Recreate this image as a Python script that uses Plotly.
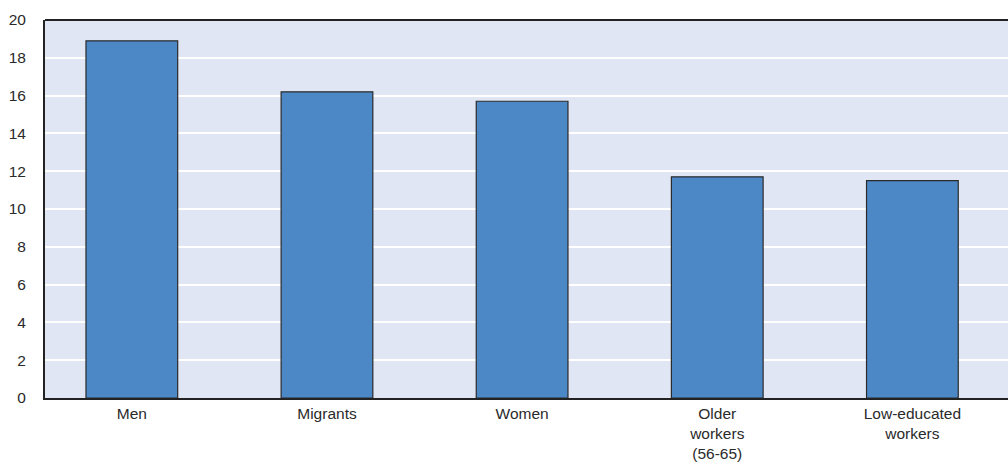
import plotly.graph_objects as go

categories = ["Men", "Migrants", "Women", "Older<br>workers<br>(56-65)", "Low-educated<br>workers"]
values = [18.9, 16.2, 15.7, 11.7, 11.5]
y_ticks = [0, 2, 4, 6, 8, 10, 12, 14, 16, 18, 20]

positions = list(range(len(categories)))

fig = go.Figure(
    go.Bar(
        x=positions,
        y=values,
        width=0.47,
        marker=dict(color="#4c88c6", line=dict(color="#2a2a2a", width=1.2)),
        hoverinfo="skip",
    )
)

font_family = "Liberation Sans, Arial, sans-serif"

fig.update_layout(
    width=1008,
    height=469,
    margin=dict(l=45, r=0, t=20, b=71),
    paper_bgcolor="white",
    plot_bgcolor="#e0e6f4",
    showlegend=False,
    font=dict(family=font_family, size=15.5, color="#2a2a2a"),
    xaxis=dict(
        range=[-0.445, 4.49],
        tickvals=positions,
        ticktext=categories,
        showgrid=False,
        zeroline=False,
        showline=True,
        linecolor="#222222",
        linewidth=2,
        ticks="",
        ticklabelstandoff=0,
        fixedrange=True,
    ),
    yaxis=dict(
        range=[0, 20],
        tickvals=y_ticks,
        showgrid=True,
        gridcolor="white",
        gridwidth=1.5,
        zeroline=False,
        showline=True,
        linecolor="#222222",
        linewidth=2,
        ticks="",
        ticklabelstandoff=14,
        fixedrange=True,
    ),
    shapes=[
        dict(
            type="line",
            xref="paper",
            yref="paper",
            x0=0,
            x1=1,
            y0=1,
            y1=1,
            line=dict(color="#222222", width=2),
        )
    ],
)

fig.write_html("out.html")
